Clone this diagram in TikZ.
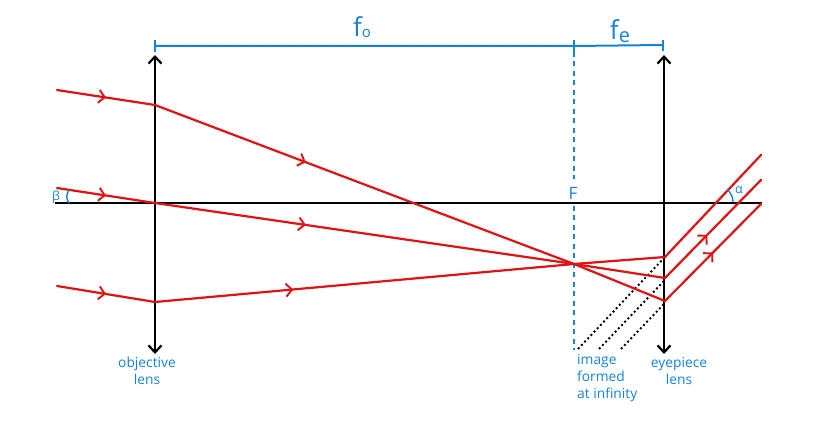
\documentclass[tikz,border=0pt]{standalone}
\usepackage{fontspec}
\setmainfont{Open Sans}
\usetikzlibrary{arrows.meta,decorations.markings}
\definecolor{rayred}{HTML}{E01212}
\definecolor{noteblue}{HTML}{1583D8}
\tikzset{
  axisline/.style={draw=black,line width=2.2pt},
  lensline/.style={draw=black,line width=2.2pt,{Straight Barb[length=7pt,width=13pt,line width=2.2pt]}-{Straight Barb[length=7pt,width=13pt,line width=2.2pt]}},
  ray/.style={draw=rayred,line width=2.2pt,line cap=round},
  chevron/.style={postaction={decorate},decoration={markings,mark=at position #1 with {\arrow{Straight Barb[length=6pt,width=13pt,line width=1.9pt,rayred]}}}},
  bluebar/.style={draw=noteblue,line width=2pt},
  bluedash/.style={draw=noteblue,line width=2.5pt,dash pattern=on 5pt off 4.5pt},
  dots/.style={draw=black,line width=1.9pt,dash pattern=on 2pt off 2.6pt},
  note/.style={text=noteblue,font=\fontsize{13.8}{17}\selectfont,align=center,inner sep=0pt},
  bignote/.style={text=noteblue,font=\fontsize{26}{28}\selectfont,inner sep=0pt},
}
\begin{document}
\begin{tikzpicture}[x=1pt,y=-1pt]
\useasboundingbox (0,0) rectangle (830,427);
% named points
\coordinate (axisL) at (55,203);
\coordinate (axisR) at (762,203);
\coordinate (objT) at (155,55);
\coordinate (objB) at (155,354);
\coordinate (eyeT) at (664,55);
\coordinate (eyeB) at (664,354);
\coordinate (barL) at (155,46);
\coordinate (barM) at (574,46);
\coordinate (barR) at (663,45);
\coordinate (tickLa) at (155,40);
\coordinate (tickLb) at (155,52);
\coordinate (tickMa) at (574,40);
\coordinate (tickMb) at (574,52);
\coordinate (tickRa) at (663,40);
\coordinate (tickRb) at (663,51);
\coordinate (dashB) at (574,350);
\coordinate (focus) at (574,264);
\coordinate (inA) at (57,90);   \coordinate (obA) at (155,105);
\coordinate (inB) at (57,188);  \coordinate (obB) at (155,203);
\coordinate (inC) at (57,286);  \coordinate (obC) at (155,302);
\coordinate (eyA) at (665,301); \coordinate (outA) at (761,204);
\coordinate (eyB) at (665,278); \coordinate (outB) at (761,180);
\coordinate (eyC) at (665,257); \coordinate (outC) at (761,155);
\coordinate (virtA) at (578,349);
\coordinate (virtB) at (599,349);
\coordinate (virtC) at (621,349);
\coordinate (virtAe) at (664,258);
\coordinate (virtBe) at (664,281);
\coordinate (virtCe) at (664,304);
% axis and lenses
\draw[axisline] (axisL) -- (axisR);
\draw[lensline] (objB) -- (objT);
\draw[lensline] (eyeB) -- (eyeT);
% focal bar
\draw[bluebar] (barL) -- (barM) -- (barR);
\draw[bluebar,line width=1.5pt] (tickLa) -- (tickLb);
\draw[bluebar,line width=1.5pt] (tickMa) -- (tickMb);
\draw[bluebar,line width=1.5pt] (tickRa) -- (tickRb);
\node[bignote] (fo) at (362,27) {f\raisebox{-1pt}{\fontsize{15}{15}\selectfont o}};
\node[bignote] (fe) at (620,31) {f\raisebox{-3pt}{\fontsize{20}{20}\selectfont e}};
% focal plane
\node[text=noteblue,font=\fontsize{17}{17}\selectfont,inner sep=3pt] (F) at (573,193) {F};
\draw[bluedash] (tickMb) -- (574,179);
\draw[bluedash] (574,206) -- (dashB);
% dotted back-projections
\draw[dots] (virtA) -- (virtAe);
\draw[dots] (virtB) -- (virtBe);
\draw[dots] (virtC) -- (virtCe);
% rays
\draw[ray,chevron=0.5] (inA) -- (obA);
\draw[ray,chevron=0.36] (obA) -- (focus);
\draw[ray] (focus) -- (eyA);
\draw[ray,chevron=0.5] (eyA) -- (outA);
\draw[ray,chevron=0.5] (inB) -- (obB);
\draw[ray,chevron=0.36] (obB) -- (focus);
\draw[ray] (focus) -- (eyB);
\draw[ray,chevron=0.44] (eyB) -- (outB);
\draw[ray,chevron=0.5] (inC) -- (obC);
\draw[ray,chevron=0.33] (obC) -- (focus);
\draw[ray] (focus) -- (eyC) -- (outC);
% angle marks
\draw[bluebar,line width=1.4pt] (69,190) .. controls (66,195) and (66,199) .. (69,203);
\node[text=noteblue,font=\fontsize{12.5}{12.5}\selectfont,inner sep=0pt] (beta) at (56,197) {β};
\draw[bluebar,line width=1.4pt] (727,189) .. controls (731,193) and (733,197) .. (733,202);
\node[text=noteblue,font=\fontsize{12.5}{12.5}\selectfont,inner sep=0pt] (alpha) at (739,190) {α};
% labels
\node[note] (objlabel) at (147,371) {objective\\lens};
\node[note] (eyelabel) at (679,371) {eyepiece\\lens};
\node[note,anchor=north west,align=left] (imglabel) at (577,354) {image\\formed\\at infinity};
\end{tikzpicture}
\end{document}
